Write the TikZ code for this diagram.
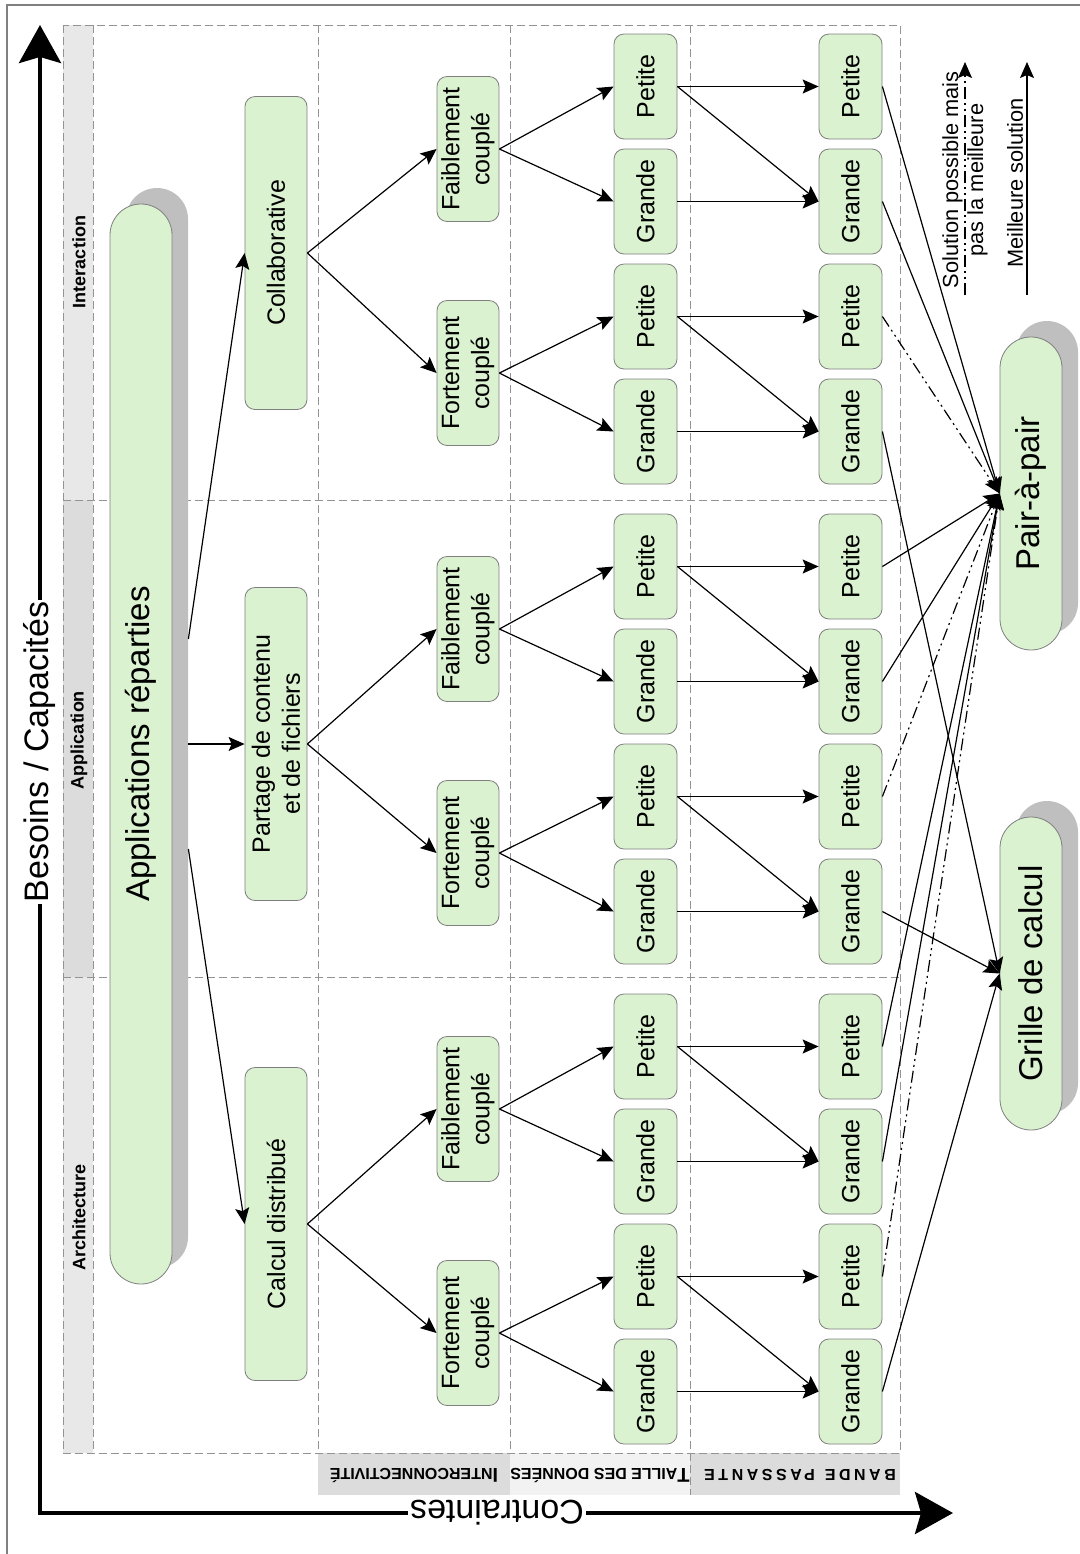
\documentclass[tikz,border=0pt]{standalone}
\usepackage{fontspec}
\setmainfont{Liberation Sans}
\usetikzlibrary{arrows.meta}

\definecolor{boxgreen}{HTML}{DAF2D0}
\definecolor{boxedge}{HTML}{7F7F7F}
\definecolor{shadowgray}{HTML}{BFBFBF}
\definecolor{stripdark}{HTML}{DCDCDC}
\definecolor{striplight}{HTML}{E8E8E8}
\definecolor{stripwhite}{HTML}{F2F2F2}

\tikzset{
    cell/.style={draw=boxedge, line width=0.4pt, fill=boxgreen, rounded corners=5pt,
        rotate=90, inner sep=0pt, align=center, font=\fontsize{12.5}{15}\selectfont},
    longbox/.style={cell, minimum width=156.5pt, minimum height=31pt},
    midbox/.style={cell, minimum width=72.5pt, minimum height=31pt},
    sizebox/.style={cell, minimum width=52.5pt, minimum height=31.5pt},
    pill/.style={cell, rounded corners=15.5pt, minimum height=31pt,
        font=\fontsize{16.5}{19}\selectfont},
    pillshade/.style={pill, fill=shadowgray, draw=none},
    link/.style={line width=0.6pt, -{Stealth[length=8pt,width=7pt,inset=1.5pt]}},
    maybe/.style={link, dash pattern=on 6pt off 2pt on 1pt off 2pt on 1pt off 2pt},
    guide/.style={gray!85, line width=0.4pt, dash pattern=on 4pt off 2pt},
    bandlabel/.style={rotate=90, inner sep=0pt, font=\bfseries\fontsize{9}{9}\selectfont},
    striplabel/.style={rotate=180, inner sep=0pt, font=\bfseries\fontsize{8}{8}\selectfont},
    axislabel/.style={fill=white, inner sep=1pt, font=\fontsize{17}{19}\selectfont},
    legendtext/.style={rotate=90, inner sep=0pt, align=center, font=\fontsize{10.9}{12.5}\selectfont},
}

\begin{document}
\begin{tikzpicture}[x=0.5pt, y=-0.5pt]
    \useasboundingbox (0,0) rectangle (1080,1554);
    \draw[gray, line width=0.6pt] (7,1554) -- (7,5) -- (1080,5);

    \fill[striplight] (63,25) rectangle (93,500);
    \fill[stripdark] (63,500) rectangle (93,977);
    \fill[striplight] (63,977) rectangle (93,1453);
    \fill[stripdark] (318,1453) rectangle (510,1495);
    \fill[stripwhite] (510,1453) rectangle (690,1495);
    \fill[stripdark] (690,1453) rectangle (900,1495);
    \draw[guide] (63,25) rectangle (900,1453);
    \foreach \y in {500,977}
      \draw[guide] (63,\y) -- (900,\y);
    \foreach \x in {93,318,510,690}
      \draw[guide] (\x,25) -- (\x,1453);
    \draw[guide] (690,1453) -- (690,1495);

    \node[bandlabel] (lbl-inter) at (79,262) {Interaction};
    \node[bandlabel] (lbl-appli) at (79,740) {Application};
    \node[bandlabel] (lbl-archi) at (79,1217) {Architecture};
    \node[striplabel] (lbl-conn) at (414,1475) {{\fontsize{10}{10}\selectfont I}NTERCONNECTIVITÉ};
    \node[striplabel] (lbl-data) at (600,1475) {{\fontsize{10}{10}\selectfont T}AILLE DES DONNÉES};
    \node[striplabel] (lbl-band) at (800,1475) {\addfontfeature{LetterSpace=22}BANDE\hspace{5pt}PASSANTE};

    \coordinate (orig) at (40,1513);
    \coordinate (ytip) at (40,25);
    \coordinate (xtip) at (953,1513);
    \draw[line width=2pt, {Stealth[length=19pt,width=21pt,inset=3pt]}-{Stealth[length=19pt,width=21pt,inset=3pt]}]
      (ytip) -- (orig) -- (xtip);
    \node[axislabel, rotate=90] (needs) at (40,752) {Besoins / Capacités};
    \node[axislabel, rotate=180] (limits) at (497,1513) {Contraintes};

    \node[pillshade, minimum width=540pt] (apps-shade) at (157,728) {};
    \node[pill, minimum width=540pt] (apps) at (141,744) {Applications réparties};
    \node[pillshade, minimum width=156.5pt] (p2p-shade) at (1047,477.5) {};
    \node[pill, minimum width=156.5pt] (p2p) at (1031,493.5) {Pair-à-pair};
    \node[pillshade, minimum width=156.5pt] (grid-shade) at (1047,957.5) {};
    \node[pill, minimum width=156.5pt] (grid) at (1031,973.5) {Grille de calcul};

    \node[longbox] (collab) at (276,253) {Collaborative};
    \node[longbox] (share) at (276,744) {Partage de contenu\\et de fichiers};
    \node[longbox] (calc) at (276,1224) {Calcul distribué};
    \draw[link] ([xshift=8pt,yshift=52.5pt]apps.south) -- (collab.north);
    \draw[link] ([xshift=8pt]apps.south) -- (share.north);
    \draw[link] ([xshift=8pt,yshift=-52.5pt]apps.south) -- (calc.north);

    \foreach \band/\src/\off in {i/collab/0, a/share/480, r/calc/960}{
      \node[midbox] (weak-\band) at (468,149+\off) {Faiblement\\couplé};
      \node[midbox] (strong-\band) at (468,373+\off) {Fortement\\couplé};
      \draw[link] (\src.south) -- (weak-\band.north);
      \draw[link] (\src.south) -- (strong-\band.north);
      \foreach \k/\dy/\txt in {1/0/Petite, 2/115/Grande, 3/230/Petite, 4/345/Grande}{
        \node[sizebox] (size-\band\k) at (645.5,86.5+\off+\dy) {\txt};
        \node[sizebox] (bw-\band\k) at (850.5,86.5+\off+\dy) {\txt};
      }
      \draw[link] (weak-\band.south) -- (size-\band1.north);
      \draw[link] (weak-\band.south) -- (size-\band2.north);
      \draw[link] (strong-\band.south) -- (size-\band3.north);
      \draw[link] (strong-\band.south) -- (size-\band4.north);
      \foreach \p/\q in {1/1, 1/2, 2/2, 3/3, 3/4, 4/4}
        \draw[link] (size-\band\p.south) -- (bw-\band\q.north);
      \draw[link] (bw-\band1.south) -- (p2p.north);
      \draw[link] (bw-\band2.south) -- (p2p.north);
      \draw[maybe] (bw-\band3.south) -- (p2p.north);
      \draw[link] (bw-\band4.south) -- (grid.north);
    }

    \coordinate (maybe-from) at (965,295);
    \coordinate (maybe-to) at (965,62);
    \draw[maybe] (maybe-from) -- (maybe-to);
    \node[legendtext] (maybe-text) at (965,180) {Solution possible mais\\pas la meilleure};
    \coordinate (best-from) at (1027,295);
    \coordinate (best-to) at (1027,62);
    \draw[link] (best-from) -- (best-to);
    \node[legendtext] (best-text) at (1015,183) {Meilleure solution};
\end{tikzpicture}
\end{document}
